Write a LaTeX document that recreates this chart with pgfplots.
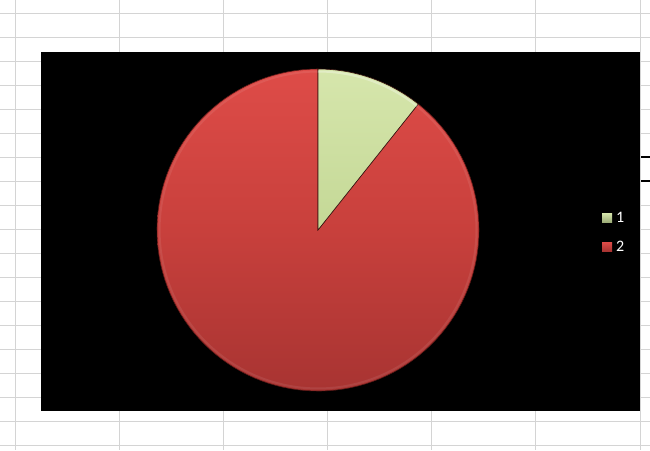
\documentclass[border=0pt]{standalone}
\usepackage{pgfplots}
\pgfplotsset{compat=1.18}
\usepackage{pgfplotstable}
\usepackage{fontspec}
\setmainfont{Carlito}
\definecolor{gridc}{RGB}{212,212,212}
\definecolor{redtop}{RGB}{222,76,72}
\definecolor{redbot}{RGB}{168,52,50}
\definecolor{redmid}{RGB}{200,64,60}
\definecolor{greentop}{RGB}{214,230,172}
\definecolor{greenbot}{RGB}{196,216,150}
\definecolor{edgec}{RGB}{90,24,22}
\pgfplotstableread{
label value
1 10.7
2 89.3
}\piedata
\pgfplotstablegetelem{0}{value}\of\piedata\let\va\pgfplotsretval
\pgfplotstablegetelem{1}{value}\of\piedata\let\vb\pgfplotsretval
\pgfmathsetmacro{\tot}{\va+\vb}
\pgfmathsetmacro{\aone}{90-\va/\tot*360}
\pgfmathsetmacro{\atwo}{\aone-\vb/\tot*360}
\begin{document}
\begin{tikzpicture}[x=1pt,y=1pt]
\begin{axis}[
  scale only axis, width=650pt, height=450pt,
  xmin=0, xmax=650, ymin=0, ymax=450, y dir=reverse,
  hide axis, clip=true,
]
% sheet background
\fill[white] (axis cs:0,0) rectangle (axis cs:650,450);
\pgfplotsinvokeforeach{15,119,223,327,431,535,640}{
  \draw[gridc, line width=1pt] (axis cs:#1,0) -- (axis cs:#1,450);
}
\pgfplotsinvokeforeach{13,37,61,85,109,133,157,181,205,229,253,277,301,325,349,373,397,421,445}{
  \draw[gridc, line width=1pt] (axis cs:0,#1) -- (axis cs:650,#1);
}
\draw[black, line width=2pt] (axis cs:641,157) -- (axis cs:650,157);
\draw[black, line width=2pt] (axis cs:641,181) -- (axis cs:650,181);
% chart area
\fill[black] (axis cs:41,52) rectangle (axis cs:640,411);
% pie slices
\addplot[draw=edgec, line width=0.6pt, top color=redtop, bottom color=redbot, middle color=redmid,
  domain=\atwo:\aone, samples=120, variable=\t]
  ({318+161*cos(t)},{230-161*sin(t)}) -- (axis cs:318,230) -- cycle;
\addplot[draw=edgec!60!black, line width=0.6pt, top color=greentop, bottom color=greenbot,
  domain=\aone:90, samples=30, variable=\t]
  ({318+161*cos(t)},{230-161*sin(t)}) -- (axis cs:318,230) -- cycle;
% bevel highlights
\addplot[draw=white, opacity=0.08, line width=2pt, domain=\atwo:\aone, samples=120, variable=\t]
  ({318+158.5*cos(t)},{230-158.5*sin(t)});
\addplot[draw=white, opacity=0.3, line width=2pt, domain=\aone:90, samples=30, variable=\t]
  ({318+158.5*cos(t)},{230-158.5*sin(t)});
% legend
\fill[top color=greentop, bottom color=greenbot!80!black] (axis cs:602,213) rectangle (axis cs:612,222);
\fill[top color=redtop, bottom color=redbot] (axis cs:602,242) rectangle (axis cs:612,251);
\node[anchor=west, text=white, font=\fontsize{16}{18}\selectfont, inner sep=0pt] at (axis cs:616,217.5) {1};
\node[anchor=west, text=white, font=\fontsize{16}{18}\selectfont, inner sep=0pt] at (axis cs:616,246.5) {2};
\end{axis}
\end{tikzpicture}
\end{document}
